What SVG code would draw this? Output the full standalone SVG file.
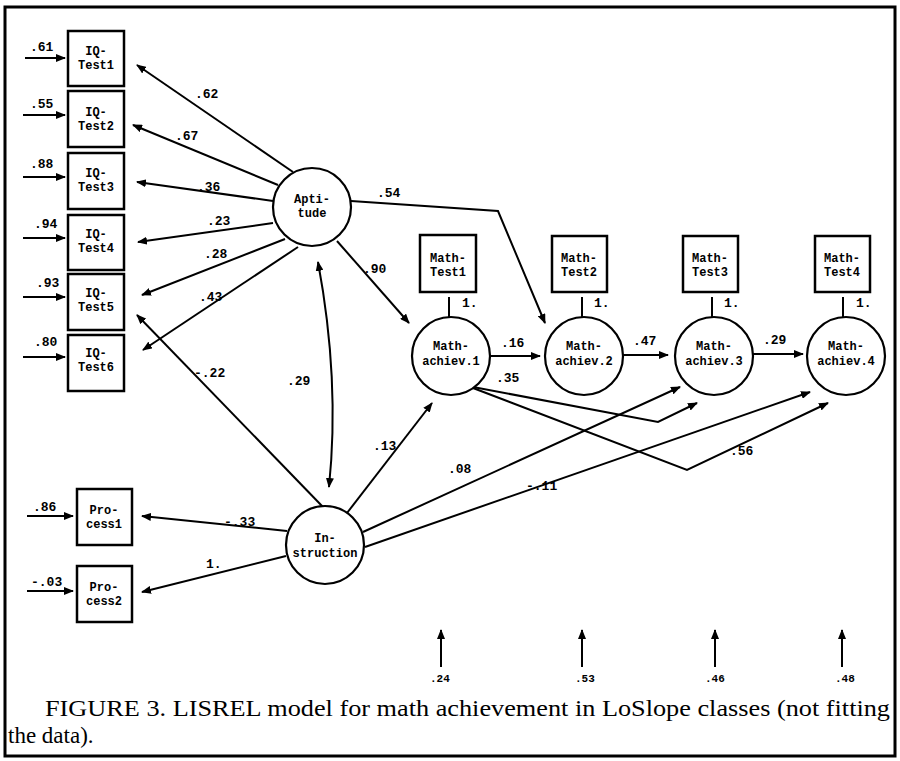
<svg xmlns="http://www.w3.org/2000/svg" width="900" height="761" viewBox="0 0 900 761">
<style>
.box{fill:#fff;stroke:#000;stroke-width:2.5}
.lat{fill:#fff;stroke:#000;stroke-width:2.2}
.t{font-family:"Liberation Mono","DejaVu Sans Mono",monospace;font-weight:bold;font-size:12px;fill:#000;text-anchor:middle}
.l{font-family:"Liberation Mono","DejaVu Sans Mono",monospace;font-weight:bold;font-size:13px;fill:#000}
.s{font-family:"Liberation Mono","DejaVu Sans Mono",monospace;font-weight:bold;font-size:11px;fill:#000}
.c{font-family:"Liberation Serif","Times New Roman",serif;font-size:23px;fill:#000}
#edges path{fill:none;stroke:#000;stroke-width:2;marker-end:url(#ah)}
#edges path.n{marker-end:none}
</style>
<defs>
<marker id="ah" markerUnits="userSpaceOnUse" markerWidth="10" markerHeight="8" refX="9" refY="4" orient="auto-start-reverse">
<path d="M0,0 L10,4 L0,8 z" fill="#000"/>
</marker>
</defs>
<rect x="0" y="0" width="900" height="761" fill="#fff"/>
<rect x="5" y="7" width="890" height="749" fill="none" stroke="#000" stroke-width="3"/>

<g id="edges">
<path d="M293,172 L137,65"/>
<path d="M278,185 L133,125"/>
<path d="M273,201 L137,182"/>
<path d="M273,223 L138,242"/>
<path d="M285,239 L142,295"/>
<path d="M298,247 L143,350"/>
<path d="M337,241 L409,323"/>
<path d="M351,201 L498,211 L545,323"/>
<path d="M318,262 Q340,380 329,487" marker-start="url(#ah)"/>
<path d="M323,507 L137,315"/>
<path d="M287,531 L142,516"/>
<path d="M286,556 L142,592"/>
<path d="M347,513 L432,403"/>
<path d="M363,532 L680,387"/>
<path d="M365,547 L810,392"/>
<path d="M490,356 L540,356"/>
<path d="M623,355 L668,355"/>
<path d="M753,354 L803,354"/>
<path d="M473,387 L658,422 L697,403"/>
<path d="M473,388 L687,470 L828,403"/>
<path class="n" d="M449,297 L449,317"/>
<path class="n" d="M582,297 L582,317"/>
<path class="n" d="M712,297 L712,317"/>
<path class="n" d="M843,297 L843,317"/>
<path d="M25,58 L65,58"/>
<path d="M23,115 L65,115"/>
<path d="M23,177 L65,177"/>
<path d="M23,238 L65,238"/>
<path d="M23,297 L65,297"/>
<path d="M23,357 L65,357"/>
<path d="M27,516 L73,516"/>
<path d="M27,591 L73,591"/>
<path d="M441,667 L441,630"/>
<path d="M582,667 L582,630"/>
<path d="M715,667 L715,630"/>
<path d="M842,667 L842,630"/>
</g>

<g id="iq1"><rect class="box" x="68" y="31" width="56" height="55"/><text class="t" x="96" y="55">IQ-</text><text class="t" x="96" y="69">Test1</text></g>
<g id="iq2"><rect class="box" x="68" y="91" width="56" height="56"/><text class="t" x="96" y="116">IQ-</text><text class="t" x="96" y="130">Test2</text></g>
<g id="iq3"><rect class="box" x="68" y="153" width="56" height="56"/><text class="t" x="96" y="177">IQ-</text><text class="t" x="96" y="191">Test3</text></g>
<g id="iq4"><rect class="box" x="68" y="215" width="56" height="55"/><text class="t" x="96" y="238">IQ-</text><text class="t" x="96" y="252">Test4</text></g>
<g id="iq5"><rect class="box" x="68" y="274" width="56" height="56"/><text class="t" x="96" y="297">IQ-</text><text class="t" x="96" y="311">Test5</text></g>
<g id="iq6"><rect class="box" x="68" y="335" width="56" height="56"/><text class="t" x="96" y="357">IQ-</text><text class="t" x="96" y="371">Test6</text></g>
<g id="p1"><rect class="box" x="77" y="489" width="55" height="56"/><text class="t" x="104" y="514">Pro-</text><text class="t" x="104" y="528">cess1</text></g>
<g id="p2"><rect class="box" x="77" y="566" width="55" height="56"/><text class="t" x="104" y="591">Pro-</text><text class="t" x="104" y="605">cess2</text></g>
<g id="apt"><circle class="lat" cx="312" cy="207" r="39"/><text class="t" x="312" y="203">Apti-</text><text class="t" x="312" y="217">tude</text></g>
<g id="ins"><circle class="lat" cx="325" cy="545" r="39"/><text class="t" x="325" y="542">In-</text><text class="t" x="325" y="557">struction</text></g>
<g id="mt1"><rect class="box" x="420" y="235" width="56" height="57"/><text class="t" x="448" y="262">Math-</text><text class="t" x="448" y="276">Test1</text></g>
<g id="mt2"><rect class="box" x="552" y="236" width="55" height="56"/><text class="t" x="579" y="262">Math-</text><text class="t" x="579" y="276">Test2</text></g>
<g id="mt3"><rect class="box" x="683" y="236" width="55" height="56"/><text class="t" x="710" y="262">Math-</text><text class="t" x="710" y="276">Test3</text></g>
<g id="mt4"><rect class="box" x="815" y="236" width="55" height="56"/><text class="t" x="842" y="262">Math-</text><text class="t" x="842" y="276">Test4</text></g>
<g id="ma1"><circle class="lat" cx="451" cy="356" r="39"/><text class="t" x="451" y="350">Math-</text><text class="t" x="451" y="365">achiev.1</text></g>
<g id="ma2"><circle class="lat" cx="584" cy="356" r="39"/><text class="t" x="584" y="350">Math-</text><text class="t" x="584" y="365">achiev.2</text></g>
<g id="ma3"><circle class="lat" cx="714" cy="356" r="39"/><text class="t" x="714" y="350">Math-</text><text class="t" x="714" y="365">achiev.3</text></g>
<g id="ma4"><circle class="lat" cx="846" cy="356" r="39"/><text class="t" x="846" y="350">Math-</text><text class="t" x="846" y="365">achiev.4</text></g>

<g id="labels">
<text class="l" x="30" y="51">.61</text>
<text class="l" x="30" y="108">.55</text>
<text class="l" x="30" y="168">.88</text>
<text class="l" x="34" y="228">.94</text>
<text class="l" x="36" y="287">.93</text>
<text class="l" x="34" y="346">.80</text>
<text class="l" x="33" y="511">.86</text>
<text class="l" x="31" y="586">-.03</text>
<text class="l" x="195" y="98">.62</text>
<text class="l" x="175" y="140">.67</text>
<text class="l" x="197" y="191">.36</text>
<text class="l" x="207" y="225">.23</text>
<text class="l" x="204" y="258">.28</text>
<text class="l" x="199" y="301">.43</text>
<text class="l" x="377" y="197">.54</text>
<text class="l" x="363" y="273">.90</text>
<text class="l" x="287" y="385">.29</text>
<text class="l" x="194" y="377">-.22</text>
<text class="l" x="224" y="526">-.33</text>
<text class="l" x="206" y="568">1.</text>
<text class="l" x="373" y="450">.13</text>
<text class="l" x="448" y="473">.08</text>
<text class="l" x="526" y="490">-.11</text>
<text class="l" x="501" y="347">.16</text>
<text class="l" x="633" y="345">.47</text>
<text class="l" x="763" y="344">.29</text>
<text class="l" x="496" y="382">.35</text>
<text class="l" x="730" y="455">.56</text>
<text class="l" x="462" y="307">1.</text>
<text class="l" x="594" y="307">1.</text>
<text class="l" x="724" y="307">1.</text>
<text class="l" x="856" y="307">1.</text>
<text class="s" x="430" y="682">.24</text>
<text class="s" x="575" y="682">.53</text>
<text class="s" x="705" y="682">.46</text>
<text class="s" x="835" y="682">.48</text>
</g>

<g id="caption">
<text class="c" x="45" y="716" textLength="845" lengthAdjust="spacingAndGlyphs">FIGURE  3.  LISREL model for math achievement in LoSlope classes (not fitting</text>
<text class="c" x="8" y="743">the data).</text>
</g>
</svg>
